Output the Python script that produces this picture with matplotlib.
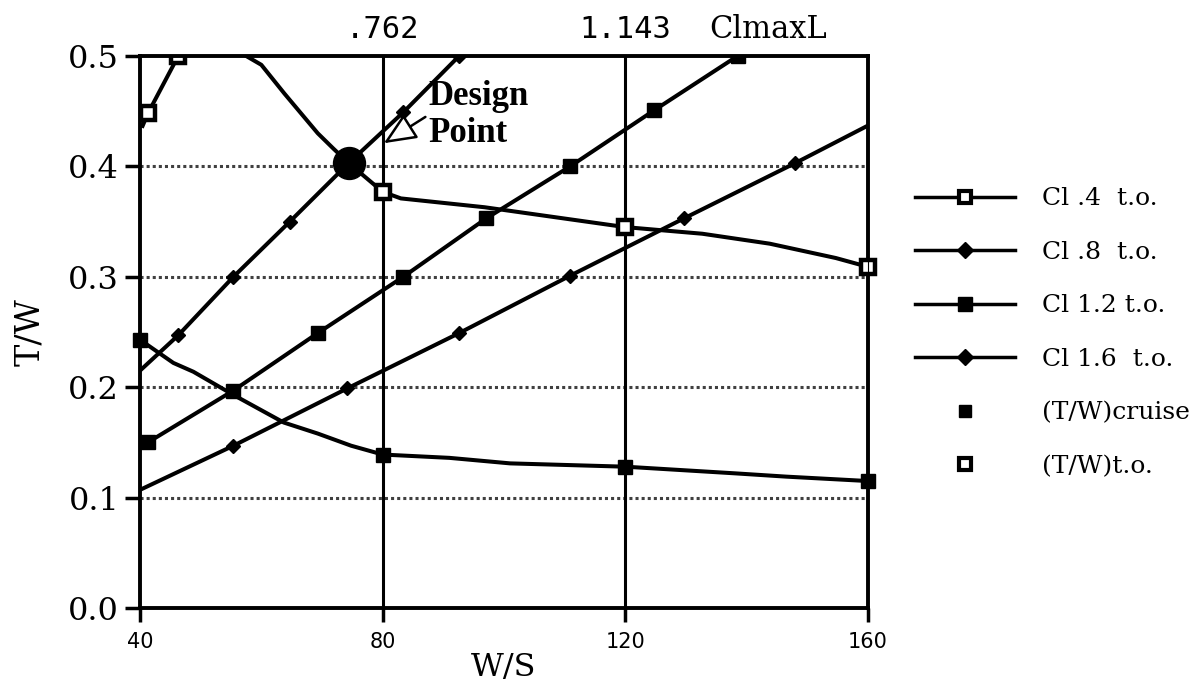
import matplotlib.pyplot as plt
from matplotlib.lines import Line2D

# Datos: W/S contra T/W
ws_cl04 = [40.3, 41.3, 46.3]
tw_cl04 = [0.435, 0.448, 0.500]

ws_cl08 = [40, 46.3, 55.4, 64.7, 74.4, 83.4, 92.6]
tw_cl08 = [0.215, 0.247, 0.300, 0.350, 0.403, 0.449, 0.500]

ws_cl12 = [40, 41.3, 55.4, 69.3, 83.4, 97.1, 110.9, 124.8, 138.5]
tw_cl12 = [0.146, 0.150, 0.197, 0.249, 0.300, 0.353, 0.400, 0.451, 0.500]

ws_cl16 = [40, 55.4, 74.2, 92.6, 110.9, 129.7, 148.0, 160]
tw_cl16 = [0.107, 0.147, 0.199, 0.249, 0.301, 0.353, 0.403, 0.437]

# curva (T/W) crucero
ws_cru_line = [40, 45.5, 48.8, 55.4, 63.7, 69.3, 74.8, 80, 91, 101, 120, 138, 146.5, 160]
tw_cru_line = [0.243, 0.222, 0.214, 0.193, 0.168, 0.158, 0.147, 0.139, 0.136, 0.131,
               0.128, 0.122, 0.119, 0.115]
ws_cru = [40, 80, 120, 160]
tw_cru = [0.243, 0.139, 0.128, 0.115]

# curva (T/W) despegue
ws_to_line = [57.5, 60, 63.8, 69.3, 71.9, 74.4, 80, 83, 96.8, 120, 132.7, 143.8, 154.7, 160]
tw_to_line = [0.500, 0.492, 0.466, 0.430, 0.416, 0.403, 0.377, 0.371, 0.363, 0.345,
              0.339, 0.330, 0.317, 0.309]
ws_to = [80, 120, 160]
tw_to = [0.377, 0.345, 0.309]

design_ws, design_tw = 74.4, 0.403

top_ticks = [80, 120]
top_labels = ['.762', '1.143']

fig = plt.figure(figsize=(11.97, 6.96), dpi=100)
ax = fig.add_axes([140 / 1197, 88 / 696, 728 / 1197, 552 / 696])

lw = 2.9
ax.plot(ws_cl04, tw_cl04, color='black', lw=lw, marker='s', ms=10, mfc='white', mec='black',
        mew=3.2, markevery=[1, 2], solid_capstyle='butt')
ax.plot(ws_cl08, tw_cl08, color='black', lw=lw, marker='D', ms=7.5, markevery=[1, 2, 3, 5, 6])
ax.plot(ws_cl12, tw_cl12, color='black', lw=lw, marker='s', ms=10, markevery=list(range(1, 9)))
ax.plot(ws_cl16, tw_cl16, color='black', lw=lw, marker='D', ms=7.5, markevery=list(range(1, 7)))
ax.plot(ws_cru_line, tw_cru_line, color='black', lw=lw)
ax.plot(ws_cru, tw_cru, ls='none', marker='s', ms=10, color='black', clip_on=False, zorder=5)
ax.plot(ws_to_line, tw_to_line, color='black', lw=lw)
ax.plot(ws_to, tw_to, ls='none', marker='s', ms=10, mfc='white', mec='black', mew=3.2,
        clip_on=False, zorder=5)

# punto de diseño
ax.plot(design_ws, design_tw, 'o', color='black', ms=23, zorder=6)
ax.annotate('Design\nPoint', xy=(80.2, 0.421), xytext=(87.5, 0.478),
            ha='left', va='top', fontsize=25, fontweight='bold', family='Liberation Serif',
            linespacing=1.15,
            arrowprops=dict(arrowstyle='-|>,head_length=0.8,head_width=0.35', color='black',
                            lw=1.8, fc='white', shrinkA=0, shrinkB=0,
                            relpos=(0.0, 0.5)))

ax.set_xlim(40, 160)
ax.set_ylim(0, 0.5)
ax.set_xticks([40, 80, 120, 160])
ax.set_yticks([0.0, 0.1, 0.2, 0.3, 0.4, 0.5])
ax.set_yticklabels(['0.0', '0.1', '0.2', '0.3', '0.4', '0.5'], family='DejaVu Serif', fontsize=23)
ax.set_xticklabels(['40', '80', '120', '160'], family='DejaVu Sans', fontsize=15)
ax.tick_params(axis='y', direction='out', length=11, width=2.5, pad=4)
ax.tick_params(axis='x', direction='out', length=10, width=2.5, pad=7)

# rejilla
for y in [0.1, 0.2, 0.3, 0.4]:
    ax.axhline(y, color='0.25', lw=2.2, ls=(0, (1, 1)), zorder=0)
for x in top_ticks:
    ax.axvline(x, color='black', lw=2.2, zorder=0)
for s in ax.spines.values():
    s.set_linewidth(2.8)

ax2 = ax.twiny()
ax2.set_xlim(40, 160)
ax2.set_xticks(top_ticks)
ax2.set_xticklabels(top_labels, family='DejaVu Sans Mono', fontsize=22)
ax2.tick_params(axis='x', length=0, pad=9)
ax.text(143.5, 1.02, 'ClmaxL', transform=ax.get_xaxis_transform(), ha='center', va='bottom',
        family='DejaVu Serif', fontsize=22)

ax.set_xlabel('W/S', family='DejaVu Serif', fontsize=23, labelpad=0)
ax.set_ylabel('T/W', family='DejaVu Serif', fontsize=24, labelpad=16)

handles = [
    Line2D([], [], color='black', lw=2.5, marker='s', ms=9, mfc='white', mew=3),
    Line2D([], [], color='black', lw=2.5, marker='D', ms=8),
    Line2D([], [], color='black', lw=2.5, marker='s', ms=10),
    Line2D([], [], color='black', lw=2.5, marker='D', ms=8),
    Line2D([], [], ls='none', color='black', marker='s', ms=9),
    Line2D([], [], ls='none', color='black', marker='s', ms=8, mfc='white', mew=3),
]
labels = ['Cl .4  t.o.', 'Cl .8  t.o.', 'Cl 1.2 t.o.', 'Cl 1.6  t.o.', '(T/W)cruise', '(T/W)t.o.']
fig.legend(handles, labels, loc='center left', bbox_to_anchor=(902 / 1197, 0.522),
           frameon=False, borderpad=0, handlelength=4.0, handletextpad=1.1, labelspacing=1.22,
           prop={'family': 'DejaVu Serif', 'size': 18})

fig.savefig('out.png', dpi=100, facecolor='white')
